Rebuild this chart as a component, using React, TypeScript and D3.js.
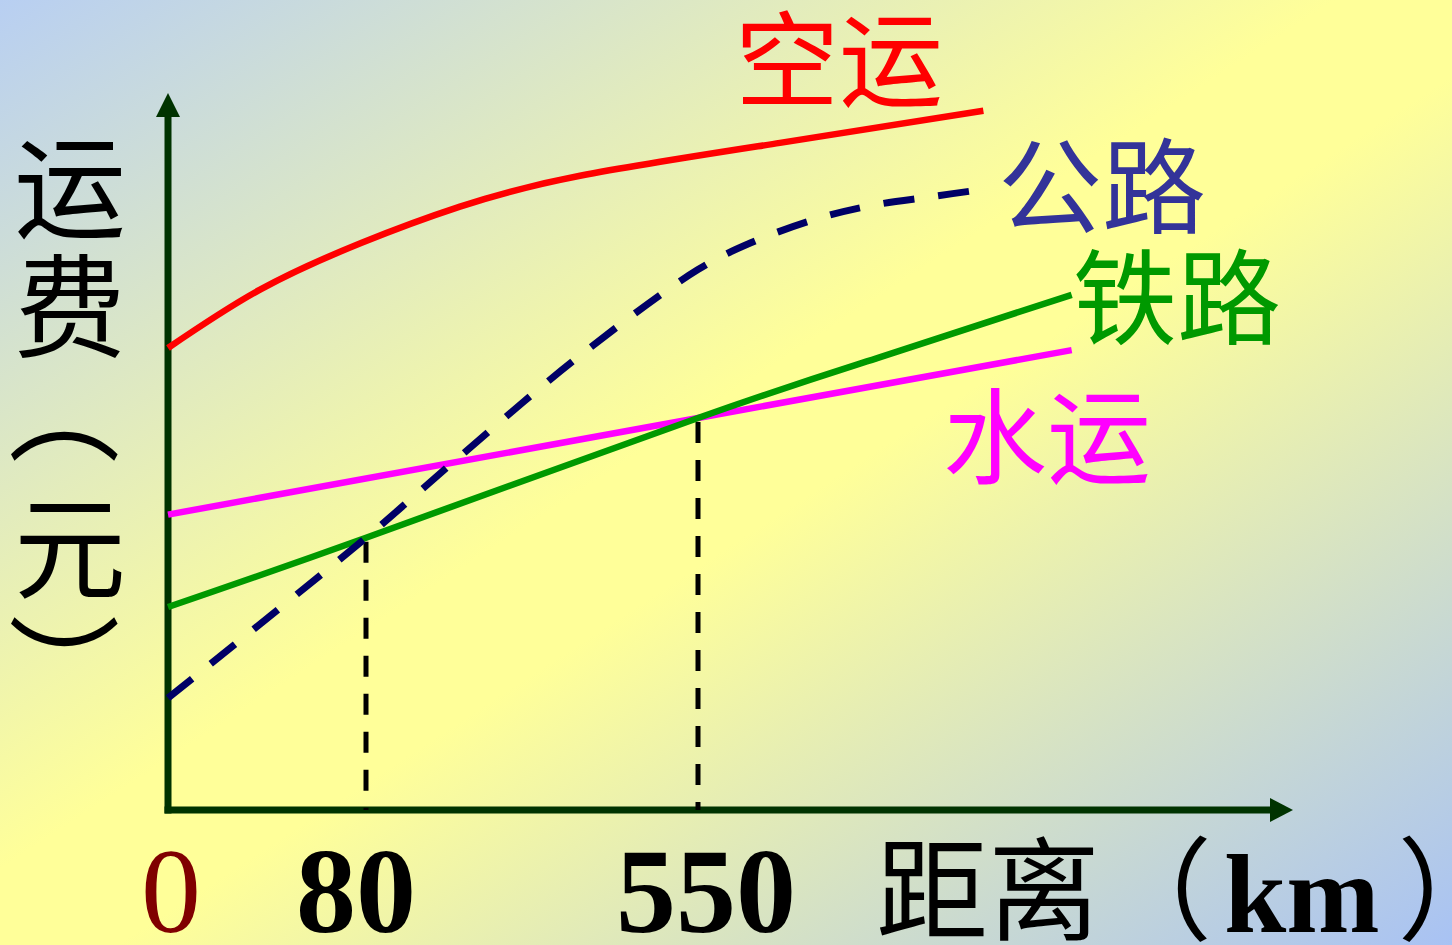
import React, { useEffect } from "react";
import * as d3 from "d3";

const W = 1452;
const H = 945;

// distance (km) tick values and labels
const distanceTicks = [0, 80, 550];
const tickLabels = ["0", "80", "550"];

// 空运 (air)
const airDist = [0, 37, 78, 213, 383, 666, 954];
const airCost = [66.0, 74.3, 81.0, 86.2, 90.6, 95.3, 99.9];
// 公路 (road)
const roadDist = [0, 80, 199, 379, 550, 624, 723, 798, 879, 957];
const roadCost = [16.0, 38.9, 49.3, 64.6, 77.2, 81.0, 84.6, 86.4, 87.6, 88.7];
// 铁路 (rail)
const railDist = [0, 80, 550, 808, 1079];
const railCost = [29.0, 38.9, 56.0, 64.7, 73.6];
// 水运 (water)
const waterDist = [0, 550, 1079];
const waterCost = [42.2, 56.0, 65.7];

const seriesNames = ["空运", "公路", "铁路", "水运"];
const crossCosts = [38.9, 56.0];

const CJK = "'Noto Sans CJK SC', 'Noto Sans CJK JP', sans-serif";
const SERIF = "'Liberation Serif', 'Times New Roman', serif";

export default function App() {
  useEffect(() => {
    document.body.style.margin = "0";
  }, []);

  const x = d3.scaleLinear().domain([0, 80, 550]).range([168, 366, 698]);
  const y = d3.scaleLinear().domain([0, 100]).range([810, 110]);

  const zip = (a: number[], b: number[]) => a.map((d, i) => [d, b[i]] as [number, number]);

  const lineCR = d3
    .line<[number, number]>()
    .x((d) => x(d[0]))
    .y((d) => y(d[1]))
    .curve(d3.curveCatmullRom.alpha(0.5));
  const lineNat = d3
    .line<[number, number]>()
    .x((d) => x(d[0]))
    .y((d) => y(d[1]))
    .curve(d3.curveNatural);
  const lineLin = d3
    .line<[number, number]>()
    .x((d) => x(d[0]))
    .y((d) => y(d[1]));

  const axisColor = "#003300";
  const x0 = x(0);
  const y0 = y(0);

  return (
    <svg
      width={W}
      height={H}
      viewBox={`0 0 ${W} ${H}`}
      style={{ display: "block", position: "absolute", left: 0, top: 0 }}
    >
      <defs>
        <linearGradient id="bg" x1="0" y1="0" x2="1" y2="1">
          <stop offset="0" stopColor="#b8cff2" />
          <stop offset="0.46" stopColor="#ffff99" />
          <stop offset="0.54" stopColor="#ffff99" />
          <stop offset="1" stopColor="#a8c2f4" />
        </linearGradient>
      </defs>
      <rect x={0} y={0} width={W} height={H} fill="url(#bg)" />

      {/* axes */}
      <line x1={x0} y1={y0 + 3.5} x2={x0} y2={116} stroke={axisColor} strokeWidth={7} />
      <path d={`M${x0},93 L${x0 - 12},117 L${x0 + 12},117 Z`} fill={axisColor} />
      <line x1={x0 - 3.5} y1={y0} x2={1271} y2={y0} stroke={axisColor} strokeWidth={7} />
      <path d={`M1293,${y0} L1270,${y0 - 12} L1270,${y0 + 12} Z`} fill={axisColor} />

      {/* reference dashed verticals */}
      {distanceTicks.slice(1).map((d, i) => (
        <line
          key={d}
          x1={x(d)}
          x2={x(d)}
          y1={y(crossCosts[i]) + 4}
          y2={y0}
          stroke="#000"
          strokeWidth={5}
          strokeDasharray="21 17"
        />
      ))}

      {/* series */}
      <path d={lineLin(zip(waterDist, waterCost)) || ""} fill="none" stroke="#ff00ff" strokeWidth={6.5} />
      <path d={lineNat(zip(railDist, railCost)) || ""} fill="none" stroke="#009900" strokeWidth={6.5} />
      <path
        d={lineCR(zip(roadDist, roadCost)) || ""}
        fill="none"
        stroke="#000066"
        strokeWidth={7}
        strokeDasharray="31 24"
      />
      <path d={lineNat(zip(airDist, airCost)) || ""} fill="none" stroke="#ff0000" strokeWidth={6.5} />

      {/* series labels */}
      <text x={735} y={99} fontFamily={CJK} fontSize={104} fill="#ff0000">{seriesNames[0]}</text>
      <text x={998} y={226} fontFamily={CJK} fontSize={104} fill="#333399">{seriesNames[1]}</text>
      <text x={1073} y={337} fontFamily={CJK} fontSize={104} fill="#009900">{seriesNames[2]}</text>
      <text x={943} y={476} fontFamily={CJK} fontSize={104} fill="#ff00ff">{seriesNames[3]}</text>

      {/* y axis title (vertical) */}
      <g fontFamily={CJK} fontSize={112} fill="#000" textAnchor="middle" dominantBaseline="central">
        <text x={70} y={181}>运</text>
        <text x={70} y={300}>费</text>
        <text x={70} y={410} transform="rotate(90 70 410)">（</text>
        <text x={70} y={541}>元</text>
        <text x={70} y={668} transform="rotate(90 70 668)">）</text>
      </g>

      {/* x tick labels */}
      {distanceTicks.map((d, i) => (
        <text
          key={d}
          x={x(d) + (i === 0 ? 3 : i === 1 ? -10 : 8)}
          y={932}
          textAnchor="middle"
          fontFamily={SERIF}
          fontWeight={i === 0 ? "normal" : "bold"}
          fontSize={120}
          fill={i === 0 ? "#800000" : "#000"}
        >
          {tickLabels[i]}
        </text>
      ))}

      {/* x axis title */}
      <text x={876} y={932} fontSize={112} fill="#000">
        <tspan fontFamily={CJK}>距离（</tspan>
        <tspan fontFamily={SERIF} fontWeight="bold" dx={12}>km</tspan>
        <tspan fontFamily={CJK} dx={18}>）</tspan>
      </text>
    </svg>
  );
}
